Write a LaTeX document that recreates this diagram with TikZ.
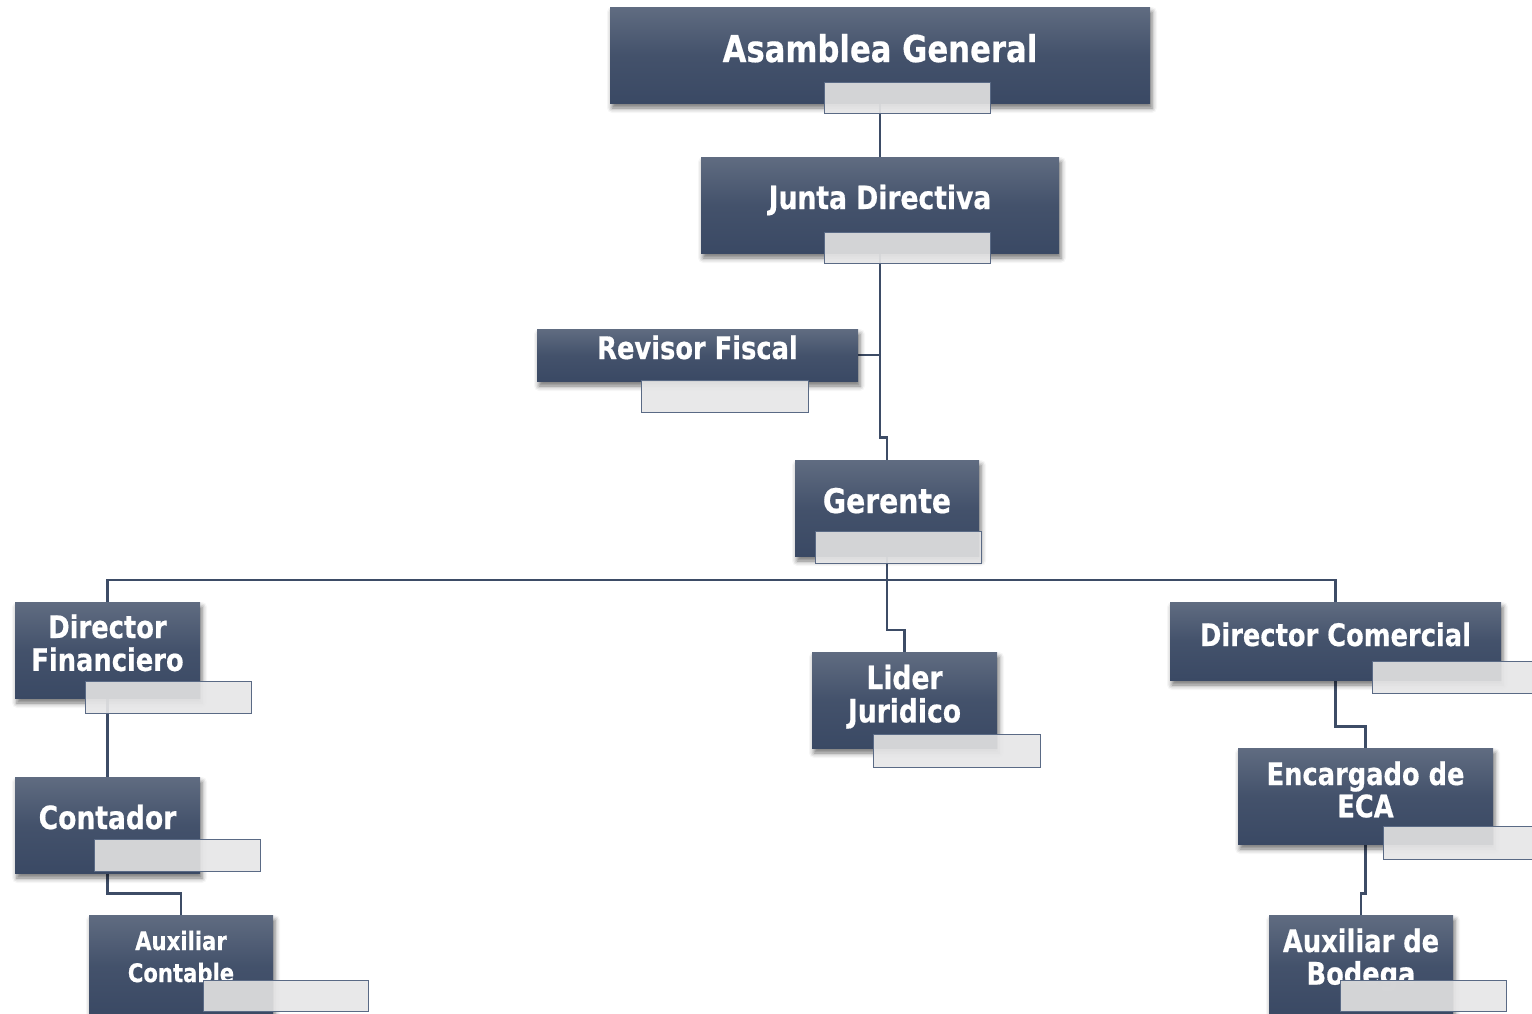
\documentclass[tikz,border=0pt]{standalone}
\usepackage{fontspec}
\setmainfont{DejaVu Sans}[FakeStretch=0.83, BoldFeatures={FakeBold=0.5}]
\usetikzlibrary{shadows.blur,backgrounds}
\definecolor{boxtop}{RGB}{96,108,129}
\definecolor{boxbot}{RGB}{58,73,100}
\definecolor{linec}{RGB}{61,76,102}
\definecolor{tablight}{RGB}{230,230,231}
\definecolor{tabdark}{RGB}{211,212,214}
\definecolor{tabline}{RGB}{90,106,133}
\tikzset{
  orgbox/.style={rectangle, inner sep=0pt, top color=boxtop, bottom color=boxbot,
    middle color=boxbot!75!boxtop,
    blur shadow={shadow xshift=1pt, shadow yshift=-2.5pt, shadow blur radius=2.5pt, shadow opacity=55}},
  orgtext/.style={anchor=base, inner sep=0pt, text=white},
  tabbox/.style={rectangle, inner sep=0pt, fill=tablight, fill opacity=0.92},
  tabedge/.style={draw=tabline, line width=0.6pt},
  conn/.style={draw=linec, line width=1.2pt},
}
\newcommand\obox[5]{\node[orgbox, minimum width={(#4-#2)*0.5pt}, minimum height={(#5-#3)*0.5pt}] (#1) at ({(#2+#4)/2},{(#3+#5)/2}) {};}
\newcommand\otext[5]{\node[orgtext, font=\bfseries\fontsize{#3}{#4}\selectfont] (#1t) at (#1.north |- 0,#2) {\begin{tabular}[t]{@{}c@{}}#5\end{tabular}};}
\newcommand\otab[6]{%
  \node[tabbox, minimum width={(#5-#3)*0.5pt}, minimum height={(#6-#4)*0.5pt}] (#1) at ({(#3+#5)/2},{(#4+#6)/2}) {};
  \begin{scope}
    \clip (#2.south west) rectangle (#2.north east);
    \fill[tabdark, fill opacity=0.92] (#1.south west) rectangle (#1.north east);
  \end{scope}
  \draw[tabedge] (#1.south west) rectangle (#1.north east);}
\begin{document}
\begin{tikzpicture}[x=0.5pt, y=-0.5pt]
\useasboundingbox (0,0) rectangle (1532,1013);
% boxes
\obox{ag}{610}{7}{1150}{103}
\otext{ag}{62}{18.5pt}{18.5pt}{Asamblea General}
\otab{agT}{ag}{825}{83}{990}{113}

\obox{jd}{701}{157}{1059}{253}
\otext{jd}{209}{16pt}{16pt}{Junta Directiva}
\otab{jdT}{jd}{825}{233}{990}{263}

\obox{rf}{537}{329}{858}{381}
\otext{rf}{359}{15.5pt}{15.5pt}{Revisor Fiscal}
\otab{rfT}{rf}{642}{381}{808}{412}

\obox{ge}{795}{460}{979}{556}
\otext{ge}{513}{17pt}{17pt}{Gerente}
\otab{geT}{ge}{816}{532}{981}{563}

\obox{df}{15}{602}{200}{698}
\otext{df}{638}{15.5pt}{15.5pt}{Director\\Financiero}
\otab{dfT}{df}{86}{682}{251}{713}

\obox{lj}{812}{652}{997}{748}
\otext{lj}{689}{16pt}{15pt}{Lider\\Juridico}
\otab{ljT}{lj}{874}{735}{1040}{767}

\obox{dc}{1170}{602}{1501}{680}
\otext{dc}{646}{15.5pt}{15.5pt}{Director Comercial}
\otab{dcT}{dc}{1373}{662}{1545}{693}

\obox{co}{15}{777}{200}{873}
\otext{co}{829}{16pt}{16pt}{Contador}
\otab{coT}{co}{95}{840}{260}{871}

\obox{ac}{89}{915}{273}{1016}
\otext{ac}{950}{12.75pt}{16pt}{Auxiliar\\Contable}
\otab{acT}{ac}{204}{981}{368}{1011}

\obox{eca}{1238}{748}{1493}{844}
\otext{eca}{785}{15.5pt}{15.5pt}{Encargado de\\ECA}
\otab{ecaT}{eca}{1384}{827}{1545}{859}

\obox{ab}{1269}{915}{1453}{1016}
\otext{ab}{952}{15.5pt}{15pt}{Auxiliar de\\Bodega}
\otab{abT}{ab}{1341}{981}{1506}{1011}

% connectors
\begin{scope}[on background layer]
  \coordinate (bus) at (ge.south |- 0,580);
  \draw[conn] (ag.south) -- (jd.north);
  \draw[conn] (jd.south) -- ++(0,184) -| (ge.north);
  \draw[conn] (rf.east) -- (rf.east -| jd.south);
  \draw[conn] (ge.south) -- (bus);
  \draw[conn] (df.north) |- (bus) -| (dc.north);
  \draw[conn] (bus) -- ++(0,50) -| (lj.north);
  \draw[conn] (df.south) -- (co.north);
  \draw[conn] (co.south) -- ++(0,20) -| (ac.north);
  \draw[conn] (dc.south) -- ++(0,46) -| (eca.north);
  \draw[conn] (eca.south) -- ++(0,49) -| (ab.north);
\end{scope}
\end{tikzpicture}
\end{document}
